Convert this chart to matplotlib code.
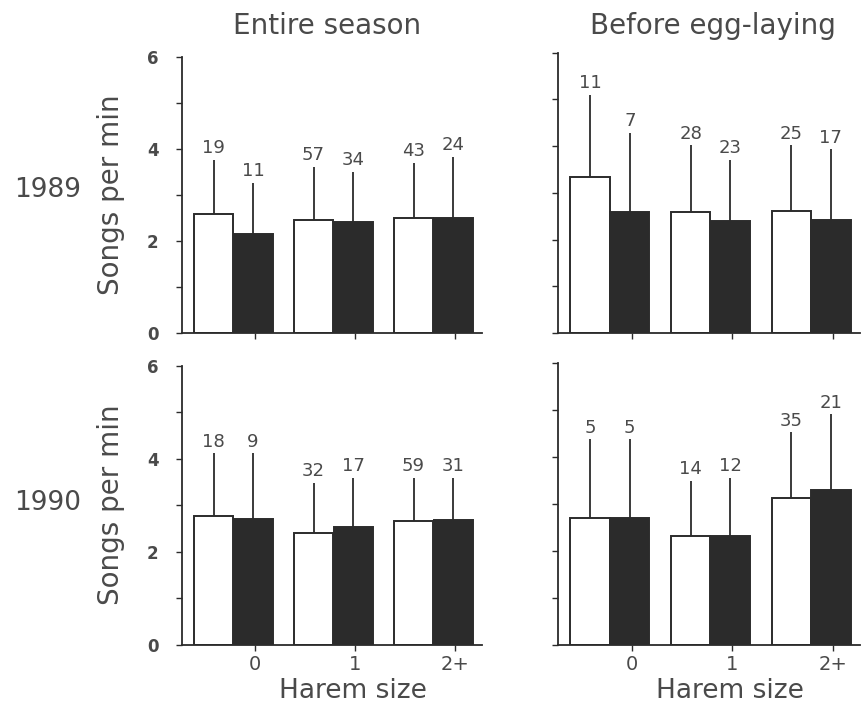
import numpy as np
import matplotlib
matplotlib.use("Agg")
import matplotlib.pyplot as plt

# harem size groups
groups = ["0", "1", "2+"]

# mean songs per min (white = first bar, black = second bar) and upper error (SD)
es89_white = [2.59, 2.46, 2.50]
es89_white_sd = [1.17, 1.15, 1.20]
es89_black = [2.15, 2.41, 2.50]
es89_black_sd = [1.11, 1.09, 1.33]
es89_n_white = [19, 57, 43]
es89_n_black = [11, 34, 24]

egg89_white = [3.35, 2.59, 2.61]
egg89_white_sd = [1.75, 1.43, 1.41]
egg89_black = [2.59, 2.39, 2.43]
egg89_black_sd = [1.69, 1.31, 1.50]
egg89_n_white = [11, 28, 25]
egg89_n_black = [7, 23, 17]

es90_white = [2.77, 2.41, 2.65]
es90_white_sd = [1.34, 1.07, 0.94]
es90_black = [2.71, 2.54, 2.69]
es90_black_sd = [1.40, 1.05, 0.90]
es90_n_white = [18, 32, 59]
es90_n_black = [9, 17, 31]

egg90_white = [2.69, 2.32, 3.12]
egg90_white_sd = [1.68, 1.16, 1.40]
egg90_black = [2.69, 2.32, 3.29]
egg90_black_sd = [1.68, 1.23, 1.61]
egg90_n_white = [5, 14, 35]
egg90_n_black = [5, 12, 21]

TXT = "#4a4a4a"
DARK = "#2b2b2b"
plt.rcParams['font.family'] = ['DejaVu Sans']

fig = plt.figure(figsize=(8.67, 7.03), dpi=100)

panels = [
    ([0.210, 0.526, 0.346, 0.393], es89_white, es89_white_sd, es89_black, es89_black_sd, es89_n_white, es89_n_black, True, False),
    ([0.644, 0.526, 0.348, 0.399], egg89_white, egg89_white_sd, egg89_black, egg89_black_sd, egg89_n_white, egg89_n_black, False, False),
    ([0.210, 0.083, 0.346, 0.397], es90_white, es90_white_sd, es90_black, es90_black_sd, es90_n_white, es90_n_black, True, True),
    ([0.644, 0.083, 0.348, 0.401], egg90_white, egg90_white_sd, egg90_black, egg90_black_sd, egg90_n_white, egg90_n_black, False, True),
]

x = np.arange(len(groups))
w = 0.39
for rect, wm, wsd, bm, bsd, wn, bn, ylab, xlab in panels:
    ax = fig.add_axes(rect)
    xw = x - 0.415
    xb = x - 0.02
    ax.bar(xw, wm, width=w, color="white", edgecolor=DARK, linewidth=1.4, zorder=2)
    ax.bar(xb, bm, width=w, color=DARK, edgecolor=DARK, linewidth=1.4, zorder=2)
    wtop = np.array(wm) + np.array(wsd)
    btop = np.array(bm) + np.array(bsd)
    ax.vlines(xw, wm, wtop, color=DARK, linewidth=1.3, zorder=1)
    ax.vlines(xb, bm, btop, color=DARK, linewidth=1.3, zorder=1)
    for xi, yi, n in zip(list(xw) + list(xb), list(wtop) + list(btop), wn + bn):
        ax.annotate(str(n), (xi, yi), xytext=(0, 2), textcoords="offset points",
                    ha="center", va="bottom", fontsize=13, color=TXT)
    ax.set_ylim(0, 6)
    ax.set_xlim(-0.73, 2.27)
    ax.spines["top"].set_visible(False)
    ax.spines["right"].set_visible(False)
    for s in ("left", "bottom"):
        ax.spines[s].set_color(DARK)
        ax.spines[s].set_linewidth(1.3)
    ax.set_yticks([0, 2, 4, 6])
    ax.set_yticks([1, 3, 5], minor=True)
    ax.tick_params(axis="y", which="both", length=4, width=1.0, color=DARK, direction="out")
    ax.tick_params(axis="x", length=4, width=1.0, color=DARK)
    ax.set_xticks(x)
    if ylab:
        ax.set_yticklabels(["0", "2", "4", "6"], fontsize=12, fontweight="bold", color=TXT)
        ax.tick_params(axis="y", pad=13)
        ax.set_ylabel("Songs per min", fontsize=20, color=TXT)
        ax.yaxis.set_label_coords(-0.19, 0.5)
    else:
        ax.set_yticklabels([])
    if xlab:
        ax.set_xticklabels(groups, fontsize=14, color=TXT)
        ax.set_xlabel("Harem size", fontsize=19, color=TXT)
        ax.xaxis.set_label_coords(0.57, -0.118)
    else:
        ax.set_xticklabels([])

fig.text(0.377, 0.963, "Entire season", ha="center", va="center", fontsize=20, color=TXT)
fig.text(0.822, 0.963, "Before egg-laying", ha="center", va="center", fontsize=20, color=TXT)
fig.text(0.055, 0.730, "1989", ha="center", va="center", fontsize=19, color=TXT)
fig.text(0.055, 0.285, "1990", ha="center", va="center", fontsize=19, color=TXT)

fig.savefig("out.png", dpi=100)
